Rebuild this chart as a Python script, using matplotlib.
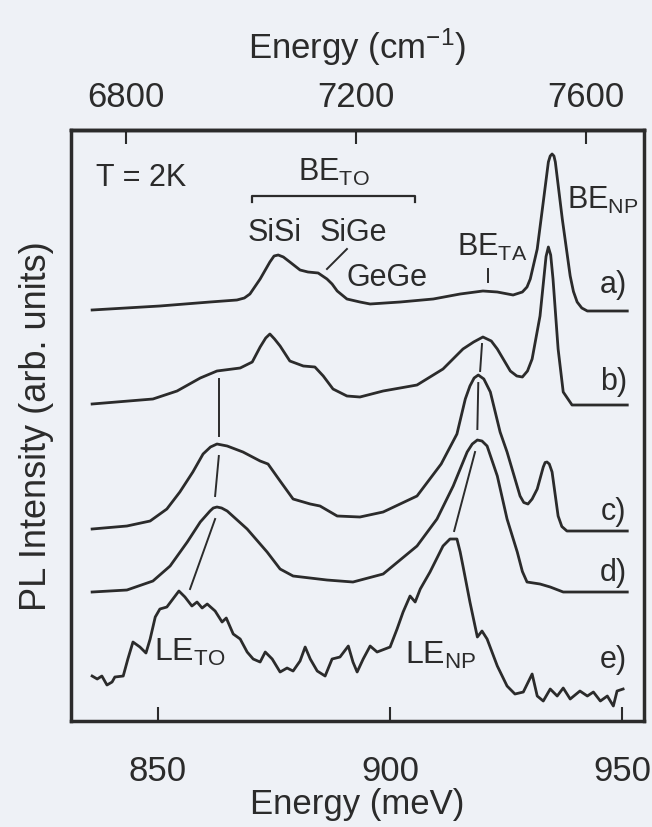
import matplotlib.pyplot as plt

plt.rcParams['font.family'] = ['Liberation Sans', 'DejaVu Sans']
plt.rcParams['mathtext.fontset'] = 'custom'
plt.rcParams['mathtext.rm'] = 'Liberation Sans'
plt.rcParams['mathtext.default'] = 'regular'

# PL spectra, energy in meV, intensity in arb. units (stacked)
energy_a = [835.8, 850.4, 861.2, 867.0, 868.6, 869.8, 872.0, 874.1, 875.0, 875.9,
            877.0, 878.4, 880.6, 882.3, 884.5, 886.4, 887.5, 888.6, 890.7, 893.5,
            895.7, 902.2, 909.3, 915.1, 920.0, 923.1, 926.5, 928.5, 929.5, 930.2,
            931.7, 933.0, 934.1, 934.5, 934.9, 935.3, 935.6, 937.1, 938.8, 939.5,
            940.3, 941.3, 942.5, 951.1]
pl_a = [82.8, 83.6, 84.4, 84.8, 85.2, 86.0, 89.0, 92.4, 93.6, 93.8,
        93.4, 92.4, 90.8, 90.4, 90.2, 89.0, 88.0, 86.6, 85.0, 84.4,
        84.0, 84.4, 85.0, 86.0, 86.6, 86.4, 85.8, 86.4, 87.4, 89.0,
        95.0, 104.4, 112.4, 113.6, 114.0, 113.6, 112.4, 101.0, 89.6, 86.5,
        84.4, 83.2, 82.6, 82.6]

energy_b = [835.8, 848.9, 854.1, 859.1, 862.7, 867.7, 870.3, 872.0, 873.2, 874.1,
            875.1, 876.3, 878.4, 881.3, 883.8, 885.6, 887.7, 890.7, 893.5, 898.5,
            905.8, 911.4, 915.7, 918.0, 920.0, 921.8, 923.1, 925.9, 927.3, 928.5,
            929.6, 930.6, 932.3, 933.0, 933.6, 934.1, 934.6, 935.1, 936.2, 937.3,
            939.2, 951.1]
pl_b = [64.0, 65.0, 66.6, 69.2, 70.6, 71.2, 72.4, 75.4, 77.2, 78.0,
        77.0, 75.6, 72.6, 71.6, 71.4, 69.6, 67.0, 65.6, 65.4, 66.6,
        67.8, 71.0, 75.0, 76.4, 77.4, 76.6, 75.0, 70.6, 69.6, 69.4,
        70.6, 73.0, 81.6, 88.0, 93.5, 95.4, 93.8, 89.0, 75.0, 66.4,
        63.8, 63.8]

energy_c = [835.8, 843.3, 848.3, 851.9, 854.7, 857.5, 859.7, 861.3, 862.7, 864.9,
            868.3, 872.0, 873.7, 876.3, 879.1, 882.8, 884.9, 888.6, 893.5, 898.5,
            905.8, 911.0, 914.4, 916.2, 917.2, 918.1, 919.0, 920.2, 921.6, 923.7,
            925.2, 928.0, 928.8, 929.7, 930.6, 931.7, 933.0, 933.4, 933.8, 934.3,
            934.9, 936.2, 937.0, 938.1, 951.1]
pl_c = [39.0, 39.6, 40.6, 43.0, 46.4, 50.4, 54.0, 55.4, 56.0, 55.6,
        54.4, 52.6, 52.0, 48.6, 45.0, 44.0, 43.6, 41.6, 41.4, 42.4,
        45.6, 52.0, 58.0, 65.0, 67.6, 69.2, 69.8, 69.0, 66.4, 58.4,
        54.4, 45.6, 44.3, 44.0, 45.0, 47.0, 51.4, 52.3, 52.4, 52.0,
        50.4, 41.6, 39.5, 38.6, 38.6]

energy_d = [835.8, 843.3, 848.9, 852.6, 856.3, 859.1, 861.2, 861.9, 862.7, 863.7,
            864.9, 869.2, 873.5, 876.3, 879.1, 886.4, 892.0, 898.5, 905.8, 910.1,
            913.6, 916.6, 917.7, 918.8, 919.8, 920.9, 923.1, 925.2, 927.4, 928.5,
            929.5, 932.3, 934.5, 937.3, 951.1]
pl_d = [26.4, 26.8, 28.6, 31.6, 36.4, 40.4, 42.6, 43.2, 43.4, 43.2,
        42.6, 39.0, 34.4, 31.0, 29.6, 28.8, 28.4, 30.0, 35.6, 41.0,
        47.6, 54.4, 56.0, 56.8, 56.6, 55.6, 49.6, 41.0, 34.4, 30.5,
        28.4, 28.0, 27.4, 26.4, 26.4]

energy_e = [835.8, 836.9, 837.9, 839.0, 840.1, 840.7, 842.5, 843.5, 844.6, 846.1,
            847.4, 848.3, 849.4, 850.4, 851.9, 853.2, 854.5, 855.8, 857.3, 858.4,
            859.5, 860.6, 862.3, 863.8, 864.7, 866.2, 867.7, 869.2, 870.5, 872.0,
            873.1, 874.6, 876.3, 877.8, 879.1, 880.6, 881.7, 882.8, 884.3, 886.0,
            887.5, 889.2, 891.0, 892.0, 892.9, 894.2, 895.7, 897.2, 900.0, 901.5,
            902.8, 904.3, 905.4, 906.5, 908.6, 911.4, 912.9, 914.4, 915.1, 915.7,
            917.2, 918.8, 919.8, 920.9, 923.1, 925.2, 926.9, 928.7, 930.6, 931.7,
            933.0, 934.5, 936.0, 937.3, 938.8, 940.9, 942.5, 943.8, 945.3, 946.8,
            948.1, 948.9, 950.2]
pl_e = [9.6, 9.0, 9.6, 7.8, 8.4, 9.4, 9.6, 13.0, 16.4, 15.4,
        14.2, 17.0, 21.4, 23.0, 23.4, 25.0, 26.6, 25.4, 23.6, 24.4,
        23.2, 24.0, 22.6, 20.4, 21.2, 18.0, 17.0, 14.4, 13.0, 12.4,
        14.4, 13.0, 10.4, 11.2, 10.6, 12.6, 15.4, 13.0, 10.6, 9.6,
        13.0, 13.4, 15.6, 12.4, 10.4, 13.0, 15.6, 14.4, 15.4, 19.0,
        22.4, 25.6, 24.4, 27.0, 30.4, 35.6, 37.0, 37.0, 34.4, 31.6,
        24.4, 17.4, 18.6, 17.0, 11.6, 7.6, 6.0, 6.4, 10.0, 5.6,
        4.6, 7.0, 5.6, 7.2, 5.0, 6.6, 5.6, 6.4, 4.6, 5.6,
        3.6, 6.6, 7.0]

spectra = [(energy_a, pl_a), (energy_b, pl_b), (energy_c, pl_c),
           (energy_d, pl_d), (energy_e, pl_e)]
curve_names = ['a)', 'b)', 'c)', 'd)', 'e)']
name_levels = [88.0, 68.6, 42.6, 30.4, 13.0]

# guide lines following the LE_TO and BE_TA / LE_NP peaks
to_guides = [([863.1, 863.1], [69.0, 57.6]), ([863.1, 862.3], [53.6, 45.6]),
             ([862.3, 856.9], [41.0, 27.0])]
ta_guides = [([921.1, 921.1], [91.0, 88.4]), ([919.8, 919.4], [76.0, 70.6]),
             ([919.0, 918.8], [68.2, 59.0]), ([918.3, 913.8], [54.4, 38.6])]

MEV_TO_CM = 8.06554

ink = '#2b2b2b'
paper = '#eef1f6'

fig = plt.figure(figsize=(6.52, 8.28), dpi=100, facecolor=paper)
ax = fig.add_axes([0.1089, 0.128, 0.8788, 0.7138], facecolor=paper)

for e, p in spectra:
    ax.plot(e, p, color=ink, lw=2.0, solid_joinstyle='round')

for xs, ys in to_guides + ta_guides:
    ax.plot(xs, ys, color=ink, lw=1.4)

# SiGe pointer and BE_TO bracket
ax.plot([890.7, 886.4], [95.0, 91.0], color=ink, lw=1.4)
ax.plot([870.3, 870.3, 905.4, 905.4], [104.4, 105.6, 105.6, 104.4], color=ink, lw=1.6)

for name, lev in zip(curve_names, name_levels):
    ax.text(948.1, lev, name, fontsize=22, ha='center', va='center', color=ink)

ax.text(846.3, 109.4, 'T = 2K', fontsize=22, ha='center', va='center', color=ink)
ax.text(887.9, 110.5, r'BE$_{TO}$', fontsize=22, ha='center', va='center', color=ink)
ax.text(875.2, 98.4, 'SiSi', fontsize=22, ha='center', va='center', color=ink)
ax.text(892.0, 98.4, 'SiGe', fontsize=22, ha='center', va='center', color=ink)
ax.text(899.4, 89.4, 'GeGe', fontsize=22, ha='center', va='center', color=ink)
ax.text(922.0, 95.6, r'BE$_{TA}$', fontsize=22, ha='center', va='center', color=ink)
ax.text(938.1, 105.0, r'BE$_{NP}$', fontsize=22, ha='left', va='center', color=ink)
ax.text(856.9, 14.6, r'LE$_{TO}$', fontsize=23, ha='center', va='center', color=ink)
ax.text(911.0, 14.0, r'LE$_{NP}$', fontsize=23, ha='center', va='center', color=ink)

ax.set_xlim(831.25, 954.7)
ax.set_ylim(0.6, 118.8)
ax.set_xticks([850, 900, 950])
ax.set_yticks([])
ax.tick_params(axis='x', direction='in', length=10, width=1.5, labelsize=25,
               pad=24, colors=ink)
ax.set_xlabel('Energy (meV)', fontsize=25, labelpad=0, color=ink)
ax.set_ylabel('PL Intensity (arb. units)', fontsize=26, labelpad=12, color=ink)
for sp in ax.spines.values():
    sp.set_linewidth(2.5)
    sp.set_color(ink)

top = ax.secondary_xaxis('top', functions=(lambda e: e * MEV_TO_CM,
                                           lambda k: k / MEV_TO_CM))
top.set_xticks([6800, 7200, 7600])
top.tick_params(direction='in', length=10, width=1.5, labelsize=25, pad=12, colors=ink)
top.set_xlabel('Energy (cm$^{-1}$)', fontsize=25, labelpad=16, color=ink)
top.spines['top'].set_linewidth(2.5)

fig.savefig('out.png', dpi=100, facecolor=paper)
